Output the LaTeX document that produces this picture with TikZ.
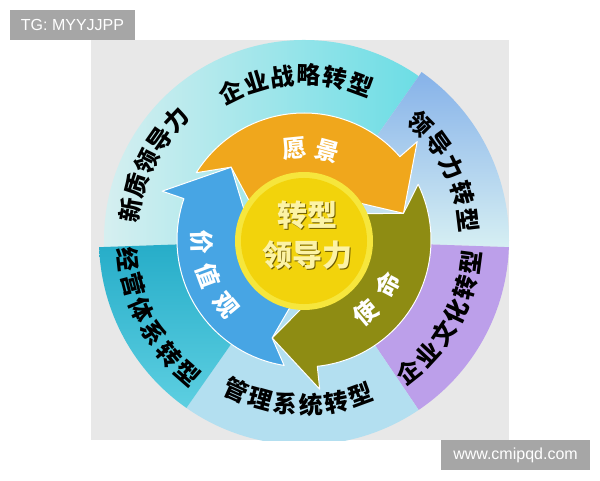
\documentclass[tikz,border=0pt]{standalone}
\usepackage{fontspec}
\setmainfont{Liberation Sans}
\newfontfamily\cjk{Noto Sans CJK SC}

\definecolor{panelgray}{HTML}{E8E8E8}
\definecolor{taggray}{HTML}{A6A6A6}
\definecolor{segcyan}{HTML}{6CDDE5}
\definecolor{segpale}{HTML}{D6EFF0}
\definecolor{segblue}{HTML}{86B2E9}
\definecolor{segice}{HTML}{D6EFF3}
\definecolor{segviolet}{HTML}{BC9FEA}
\definecolor{segsky}{HTML}{B3DFF0}
\definecolor{segteal}{HTML}{25ACC8}
\definecolor{segaqua}{HTML}{5DCFE1}
\definecolor{visionorange}{HTML}{F0A71C}
\definecolor{missionolive}{HTML}{8E8C13}
\definecolor{valuesblue}{HTML}{47A5E4}
\definecolor{corerim}{HTML}{F6E63C}
\definecolor{corefill}{HTML}{F2D30C}
\definecolor{corelight}{HTML}{FCF3A6}
\definecolor{coreshadow}{HTML}{6E5C00}

\tikzset{
  ringlabel/.style={font=\cjk\bfseries\fontsize{24}{24}\selectfont, text=black, inner sep=0pt},
  arrowlabel/.style={font=\cjk\bfseries\fontsize{24}{24}\selectfont, text=white, inner sep=0pt},
  coretext/.style={font=\cjk\bfseries\fontsize{30}{30}\selectfont, inner sep=0pt},
  tagbox/.style={fill=taggray, text=white, font=\fontsize{16}{16}\selectfont, inner sep=0pt, minimum height=30pt}
}

% name, style, first angle, angle step, radius, turn, characters
\newcommand{\ringtext}[7]{%
  \foreach \c [count=\i from 0] in {#7}{
    \pgfmathsetmacro{\ang}{#3+#4*\i}
    \node[#2, rotate=\ang+(#6)] (#1\i) at (\ang:#5) {\c};
  }}

% tail, barb, tip, notch, colour
\newcommand{\cyclearrow}[5]{%
  \fill[#5, draw=white, line width=1pt, line join=round]
    (#1:\Rout) arc[start angle=#1, end angle=#2, radius=\Rout]
    -- (#2:\Rbarb) -- (#3:\Rmid) -- (#2:\Rin)
    arc[start angle=#2, end angle=#1, radius=\Rin]
    -- (#4:\Rmid) -- cycle;}

\begin{document}
\begin{tikzpicture}[x=1pt, y=1pt]
        \pgfmathsetmacro{\Rring}{205}
        \pgfmathsetmacro{\Rout}{127}
        \pgfmathsetmacro{\Rin}{60}
        \pgfmathsetmacro{\Rbarb}{150}
        \pgfmathsetmacro{\Rmid}{103}
        \coordinate (SW) at (0,0);
        \coordinate (NE) at (600,480);
        \coordinate (PanelSW) at (91,40);
        \coordinate (PanelNE) at (509,440);
        \coordinate (O) at (304,240);
        \coordinate (Core) at (304,239);
        \useasboundingbox (SW) rectangle (NE);

        \fill[panelgray] (PanelSW) rectangle (PanelNE);% Grey Panel

        \begin{scope}
          \clip (PanelSW) rectangle (PanelNE);
          \begin{scope}[shift={(O)}]
            \shade[left color=segpale, right color=segcyan] (0,0) -- (55:200) arc[start angle=55, end angle=182, radius=200] -- cycle;% Strategy Sector
            \shade[top color=segblue, bottom color=segice] (0,0) -- (-2:\Rring) arc[start angle=-2, end angle=55, radius=\Rring] -- cycle;% Leadership Sector
            \fill[segviolet] (0,0) -- (-56:\Rring) arc[start angle=-56, end angle=-2, radius=\Rring] -- cycle;% Culture Sector
            \fill[segsky] (0,0) -- (-125:\Rring) arc[start angle=-125, end angle=-56, radius=\Rring] -- cycle;% Management Sector
            \shade[top color=segteal, bottom color=segaqua] (0,0) -- (182:\Rring) arc[start angle=182, end angle=235, radius=\Rring] -- cycle;% Operation Sector
          \end{scope}
        \end{scope}

        \begin{scope}[shift={(O)}]
          \cyclearrow{148}{41}{15}{135}{visionorange}% Vision Arrow
          \cyclearrow{26}{-84}{-108}{15}{missionolive}% Mission Arrow
          \cyclearrow{-99}{-199}{-225}{-108}{valuesblue}% Values Arrow

          \ringtext{strat}{ringlabel}{116.3}{-9.3}{165}{-90}{企,业,战,略,转,型}
          \ringtext{newq}{ringlabel}{170.3}{-8.4}{176}{-90}{新,质,领,导,力}
          \ringtext{lead}{ringlabel}{45}{-9.5}{165}{-90}{领,导,力,转,型}
          \ringtext{cult}{ringlabel}{-51.5}{8.8}{168}{90}{企,业,文,化,转,型}
          \ringtext{mgmt}{ringlabel}{245.7}{8.9}{165}{90}{管,理,系,统,转,型}
          \ringtext{oper}{ringlabel}{186.3}{8.5}{177}{90}{经,营,体,系,转,型}
          \ringtext{vision}{arrowlabel}{95.7}{-20.7}{92}{-90}{愿,景}
          \ringtext{mission}{arrowlabel}{-49.7}{22}{95}{90}{使,命}
          \ringtext{values}{arrowlabel}{181.5}{19}{102}{90}{价,值,观}
        \end{scope}

        \fill[corerim] (Core) circle[radius=69];% Core Rim
        \fill[corefill] (Core) circle[radius=63];% Core Disc

        \node[coretext, text=coreshadow] (coretopshadow) at (308.5,263.5) {转型};
        \node[coretext, text=corelight] (coretop) at (307,265) {转型};
        \node[coretext, text=coreshadow] (corebottomshadow) at (308.5,223.5) {领导力};
        \node[coretext, text=corelight] (corebottom) at (307,225) {领导力};

        \node[tagbox, minimum width=125pt] (tag) at (72.5,455) {TG: MYYJJPP};
        \node[tagbox, minimum width=149pt] (site) at (515.5,25) {www.cmipqd.com};
\end{tikzpicture}
\end{document}
